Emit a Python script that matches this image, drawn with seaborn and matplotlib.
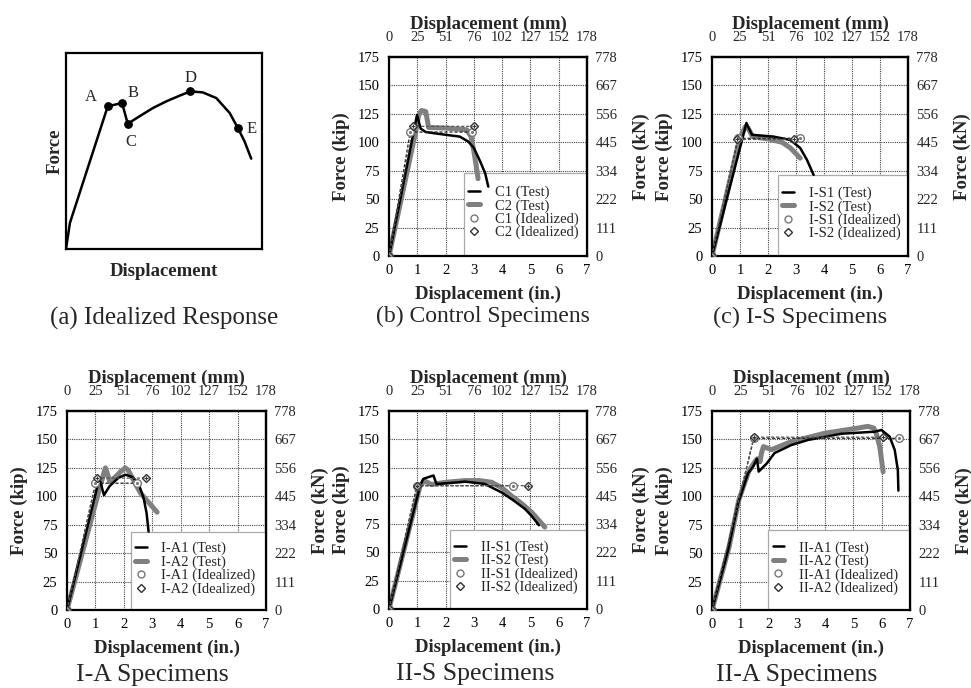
import matplotlib
matplotlib.use("Agg")
import matplotlib.pyplot as plt
import seaborn as sns
from matplotlib.lines import Line2D
from matplotlib.patches import Rectangle

# (a) idealized response (normalized units)
ideal_x = [0, 0.02, 0.213, 0.286, 0.315, 0.375, 0.443, 0.511, 0.579, 0.634, 0.698, 0.767, 0.835, 0.877, 0.911, 0.945]
ideal_y = [0, 0.133, 0.728, 0.745, 0.639, 0.677, 0.719, 0.753, 0.782, 0.804, 0.799, 0.770, 0.694, 0.617, 0.549, 0.461]
key_labels = ["A", "B", "C", "D", "E"]
key_x = [0.213, 0.286, 0.315, 0.634, 0.877]
key_y = [0.728, 0.745, 0.639, 0.804, 0.617]

# (b) control specimens
c1_x = [0, 0.99, 1.12, 1.3, 2.0, 2.5, 2.8, 3.0, 3.2, 3.4, 3.51]
c1_y = [0, 124, 112, 109, 106.6, 105, 100.7, 95, 84.5, 72.8, 61]
c2_x = [0, 0.95, 1.05, 1.15, 1.3, 1.4, 2.0, 2.75, 2.9, 3.0, 3.08, 3.15]
c2_y = [0, 110, 124, 128, 127, 113, 112.5, 111, 105, 92, 80, 68]
c1i_x = [0, 0.75, 2.92]
c1i_y = [0, 109, 109]
c2i_x = [0, 0.85, 3.0]
c2i_y = [0, 114, 114]

# (c) I-S specimens
is1_x = [0, 1.23, 1.32, 1.43, 2.2, 2.8, 3.15, 3.39, 3.63]
is1_y = [0, 117, 112, 106.6, 105, 102, 95, 84.6, 71.3]
is2_x = [0, 1.0, 1.2, 1.3, 1.45, 2.0, 2.5, 2.8, 3.0, 3.15]
is2_y = [0, 104, 114, 112, 105, 103, 100, 95, 90, 86]
is1i_x = [0, 0.93, 3.13]
is1i_y = [0, 103.5, 103.5]
is2i_x = [0, 0.9, 2.94]
is2i_y = [0, 102.5, 102.5]

# I-A specimens
ia1_x = [0, 1.1, 1.17, 1.3, 1.5, 1.8, 2.05, 2.3, 2.52, 2.7, 2.8, 2.87]
ia1_y = [0, 112, 113, 101, 109, 116, 119, 117, 111, 98, 85, 69]
ia2_x = [0, 1.2, 1.35, 1.42, 1.5, 1.7, 1.9, 2.05, 2.15, 2.58, 3.17]
ia2_y = [0, 112, 125, 120, 113, 117, 122, 125, 123, 103, 86]
ia1i_x = [0, 1.0, 2.45]
ia1i_y = [0, 111.5, 111.5]
ia2i_x = [0, 1.06, 2.78]
ia2i_y = [0, 116, 116]

# II-S specimens
iis1_x = [0, 1.1, 1.21, 1.57, 1.68, 2.2, 2.69, 3.39, 3.98, 4.4, 4.8, 5.05, 5.3]
iis1_y = [0, 109, 115, 118, 110.5, 111.5, 112.6, 110.5, 103, 96, 88.6, 82, 74]
iis2_x = [0, 1.1, 1.25, 1.35, 1.5, 2.0, 2.69, 3.2, 3.63, 4.0, 4.33, 4.7, 5.04, 5.51]
iis2_y = [0, 109, 113, 112, 110, 112, 113.5, 113.5, 112, 107, 100, 93, 85.6, 72.4]
iis1i_x = [0, 0.98, 4.39]
iis1i_y = [0, 109, 109]
iis2i_x = [0, 1.0, 4.92]
iis2i_y = [0, 109, 109]

# II-A specimens
iia1_x = [0, 0.57, 0.92, 1.27, 1.45, 1.59, 1.65, 1.94, 2.21, 2.8, 3.39, 4.57, 5.75, 5.99, 6.28, 6.46, 6.57, 6.59]
iia1_y = [0, 52.8, 93.8, 120, 126, 133, 121.7, 129, 138, 145, 149.5, 155, 156.8, 158.3, 152.5, 140.7, 123, 105]
iia2_x = [0, 0.6, 0.95, 1.3, 1.5, 1.6, 1.7, 1.75, 1.82, 2.1, 2.8, 3.98, 5.16, 5.51, 5.72, 5.81, 5.93, 6.05]
iia2_y = [0, 55, 97, 122, 130, 133, 130.5, 138, 143.7, 141, 148, 155.4, 160, 161.5, 160, 155, 143.7, 121.6]
iia1i_x = [0, 1.48, 6.6]
iia1i_y = [0, 151, 151]
iia2i_x = [0, 1.48, 6.05]
iia2i_y = [0, 152, 152]

in_ticks = [0, 1, 2, 3, 4, 5, 6, 7]
mm_labels = ["0", "25", "51", "76", "102", "127", "152", "178"]
kip_ticks = [0, 25, 50, 75, 100, 125, 150, 175]
kn_labels = ["0", "111", "222", "334", "445", "556", "667", "778"]

sns.set_theme(style="white")
plt.rcParams["font.family"] = ["Liberation Serif", "DejaVu Serif"]
plt.rcParams["axes.linewidth"] = 1.6

W, H = 971, 688
fig = plt.figure(figsize=(9.71, 6.88), dpi=100)


def box(l, t, r, b):
    return [l / W, 1 - b / H, (r - l) / W, (b - t) / H]


def ideal_marks(ax, x, y, kind):
    if kind == 1:
        ax.plot(x, y, ls=(0, (2.5, 1.5)), lw=0.9, color="#222222", zorder=4)
        ax.plot(x, y, ls="none", marker="o", ms=5.5, mfc="white", mec="#777777", mew=1, zorder=5)
        ax.plot(x, y, ls="none", marker=".", ms=2.5, color="#777777", zorder=6)
    else:
        ax.plot(x, y, ls=(0, (2.5, 1.5)), lw=0.9, color="#555555", zorder=4)
        ax.plot(x, y, ls="none", marker="D", ms=4.5, mfc="white", mec="#333333", mew=1, zorder=5)
        ax.plot(x, y, ls="none", marker="+", ms=3.5, color="#333333", mew=0.8, zorder=6)


def panel(rect, s1, s2, i1, i2, names, leg_box):
    ax = fig.add_axes(rect)
    sns.lineplot(x=s2[0], y=s2[1], ax=ax, sort=False, estimator=None, color="#808080", lw=3.6, zorder=2)
    sns.lineplot(x=s1[0], y=s1[1], ax=ax, sort=False, estimator=None, color="black", lw=1.8, zorder=3)
    ideal_marks(ax, i1[0], i1[1], 1)
    ideal_marks(ax, i2[0], i2[1], 2)
    ax.set_xlim(0, 7)
    ax.set_ylim(0, 175)
    ax.set_xticks(in_ticks)
    ax.set_yticks(kip_ticks)
    ax.grid(True, color="#444444", ls=(0, (1, 1)), lw=0.8)
    ax.set_axisbelow(True)
    ax.tick_params(axis="x", length=0, labelsize=10.5, pad=6, colors="black")
    ax.tick_params(axis="y", length=0, labelsize=10.5, pad=7, colors="black")
    for sp in ax.spines.values():
        sp.set_color("black")
    ax.set_xlabel("Displacement (in.)", fontsize=13.5, fontweight="bold", labelpad=6)
    ax.set_ylabel("Force (kip)", fontsize=13.5, fontweight="bold", labelpad=5)
    top = ax.secondary_xaxis("top")
    top.set_xticks(in_ticks, labels=mm_labels)
    top.tick_params(length=0, labelsize=10.5, pad=9)
    top.set_xlabel("Displacement (mm)", fontsize=13.5, fontweight="bold", labelpad=2)
    right = ax.secondary_yaxis("right")
    right.set_yticks(kip_ticks, labels=kn_labels)
    right.tick_params(length=0, labelsize=10.5, pad=6)
    right.set_ylabel("Force (kN)", fontsize=13.5, fontweight="bold", labelpad=11)
    # legend frame sits under the data lines, as in the original
    x0, h = leg_box
    ax.add_patch(Rectangle((x0, 0), 1 - x0, h, transform=ax.transAxes, facecolor="white",
                           edgecolor="#aaaaaa", lw=0.9, zorder=1.5))
    handles = [
        Line2D([], [], color="black", lw=1.8),
        Line2D([], [], color="#808080", lw=3.6),
        Line2D([], [], ls="none", marker="o", ms=5, mfc="white", mec="#777777"),
        Line2D([], [], ls="none", marker="D", ms=4.5, mfc="white", mec="#333333"),
    ]
    labels = [f"{names[0]} (Test)", f"{names[1]} (Test)",
              f"{names[0]} (Idealized)", f"{names[1]} (Idealized)"]
    ax.legend(handles, labels, loc="center left", bbox_to_anchor=(x0, h / 2 + 0.01),
              borderaxespad=0.1, fontsize=10.5, handlelength=0.8, handletextpad=1.0,
              labelspacing=0.0, frameon=False, borderpad=0.2)
    return ax


# panel (a)
axa = fig.add_axes(box(66, 53, 262, 249))
sns.lineplot(x=ideal_x, y=ideal_y, ax=axa, sort=False, estimator=None, color="black", lw=1.8)
axa.scatter(key_x, key_y, s=28, color="black", zorder=5)
offsets = [(-12, 7), (8, 7), (2, -13), (0, 10), (10, -1)]
for lab, x, y, off in zip(key_labels, key_x, key_y, offsets):
    axa.annotate(lab, (x, y), xytext=off, textcoords="offset points", ha="center", va="center", fontsize=12)
axa.set_xlim(0, 1)
axa.set_ylim(0, 1)
axa.set_xticks([])
axa.set_yticks([])
for sp in axa.spines.values():
    sp.set_color("black")
axa.set_xlabel("Displacement", fontsize=13.5, fontweight="bold", labelpad=10)
axa.set_ylabel("Force", fontsize=13.5, fontweight="bold", labelpad=2)
fig.text(164 / W, 1 - 318 / H, "(a) Idealized Response", ha="center", va="center", fontsize=18)

panel(box(389, 57, 587, 256), (c1_x, c1_y), (c2_x, c2_y), (c1i_x, c1i_y), (c2i_x, c2i_y), ("C1", "C2"), (0.379, 0.417))
fig.text(483 / W, 1 - 316 / H, "(b) Control Specimens", ha="center", va="center", fontsize=17)

panel(box(712, 57, 908, 256), (is1_x, is1_y), (is2_x, is2_y), (is1i_x, is1i_y), (is2i_x, is2i_y), ("I-S1", "I-S2"), (0.337, 0.407))
fig.text(800 / W, 1 - 317 / H, "(c) I-S Specimens", ha="center", va="center", fontsize=17.5)

panel(box(67, 411, 266, 610), (ia1_x, ia1_y), (ia2_x, ia2_y), (ia1i_x, ia1i_y), (ia2i_x, ia2i_y), ("I-A1", "I-A2"), (0.32, 0.393))
fig.text(152 / W, 1 - 675 / H, "I-A Specimens", ha="center", va="center", fontsize=18.5)

panel(box(389, 411, 587, 609), (iis1_x, iis1_y), (iis2_x, iis2_y), (iis1i_x, iis1i_y), (iis2i_x, iis2i_y), ("II-S1", "II-S2"), (0.308, 0.40))
fig.text(475 / W, 1 - 674 / H, "II-S Specimens", ha="center", va="center", fontsize=18.5)

panel(box(712, 411, 910, 610), (iia1_x, iia1_y), (iia2_x, iia2_y), (iia1i_x, iia1i_y), (iia2i_x, iia2i_y), ("II-A1", "II-A2"), (0.284, 0.40))
fig.text(797 / W, 1 - 675 / H, "II-A Specimens", ha="center", va="center", fontsize=18.5)

fig.savefig("out.png", dpi=100)
